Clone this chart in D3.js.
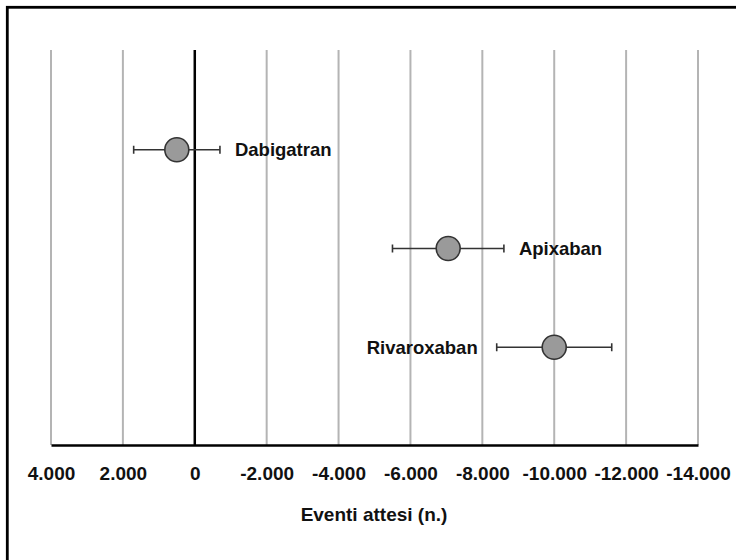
<!DOCTYPE html>
<head>
  <meta charset="utf-8">
  <script src="https://d3js.org/d3.v7.min.js"></script>
  <style>
    body { margin: 0; background: #fff; }
    svg { display: block; font-family: 'Liberation Sans', Arial, sans-serif; }
  </style>
</head>
<body>
  <svg width="736" height="560"></svg>
  <script>
    // data
    var drugs = ['Dabigatran', 'Apixaban', 'Rivaroxaban'];
    var estimates = [500, -7050, -10000];
    var lowerBounds = [1700, -5500, -8400];
    var upperBounds = [-700, -8600, -11600];
    var labelSide = ['right', 'right', 'left'];
    var tickValues = [4000, 2000, 0, -2000, -4000, -6000, -8000, -10000, -12000, -14000];
    var axisTitle = 'Eventi attesi (n.)';

    var svg = d3.select('svg');

    // frame, runs off the right and bottom edges
    svg.append('rect')
      .attr('x', 7.3).attr('y', 7.3)
      .attr('width', 760).attr('height', 600)
      .attr('fill', 'none')
      .attr('stroke', '#000')
      .attr('stroke-width', 2.8);

    var x = d3.scaleLinear()
      .domain([4000, -14000])
      .range([51, 698]);

    var y = d3.scalePoint()
      .domain(drugs)
      .range([51, 446])
      .padding(1);

    var plotTop = 50, axisY = 445;

    // grid
    svg.append('g')
      .selectAll('line')
      .data(tickValues.filter(function(d) { return d !== 0; }))
      .enter().append('line')
      .attr('x1', function(d) { return x(d); })
      .attr('x2', function(d) { return x(d); })
      .attr('y1', plotTop).attr('y2', axisY)
      .attr('stroke', '#b4b4b4')
      .attr('stroke-width', 2);

    // zero line
    svg.append('line')
      .attr('x1', x(0)).attr('x2', x(0))
      .attr('y1', plotTop).attr('y2', axisY)
      .attr('stroke', '#000')
      .attr('stroke-width', 2.5);

    // x axis
    var axis = d3.axisBottom(x)
      .tickValues(tickValues)
      .tickSize(0)
      .tickPadding(0)
      .tickFormat(function(d) {
        return d3.format(',')(d).replace(/,/g, '.').replace('−', '-');
      });

    var gAxis = svg.append('g')
      .attr('transform', 'translate(0,' + axisY + ')')
      .call(axis);
    gAxis.select('.domain')
      .attr('stroke', '#000')
      .attr('stroke-width', 2.5);
    gAxis.selectAll('text')
      .attr('dy', null)
      .attr('y', 35)
      .attr('fill', '#111')
      .style('font-size', '19px')
      .style('font-weight', 'bold');

    svg.append('text')
      .attr('x', 374).attr('y', 521)
      .attr('text-anchor', 'middle')
      .attr('fill', '#111')
      .style('font-size', '19px')
      .style('font-weight', 'bold')
      .text(axisTitle);

    // error bars and points
    var rows = drugs.map(function(name, i) {
      return {name: name, est: estimates[i], lo: lowerBounds[i], hi: upperBounds[i], side: labelSide[i]};
    });

    var g = svg.selectAll('g.drug')
      .data(rows).enter().append('g')
      .classed('drug', true)
      .attr('transform', function(d) { return 'translate(0,' + y(d.name) + ')'; });

    g.append('line')
      .attr('x1', function(d) { return x(d.lo); })
      .attr('x2', function(d) { return x(d.hi); })
      .attr('stroke', '#333')
      .attr('stroke-width', 1.6);

    g.selectAll('line.cap')
      .data(function(d) { return [d.lo, d.hi]; })
      .enter().append('line')
      .classed('cap', true)
      .attr('x1', function(d) { return x(d); })
      .attr('x2', function(d) { return x(d); })
      .attr('y1', -4).attr('y2', 4)
      .attr('stroke', '#333')
      .attr('stroke-width', 1.6);

    g.append('circle')
      .attr('cx', function(d) { return x(d.est); })
      .attr('r', 12)
      .attr('fill', '#9a9a9a')
      .attr('stroke', '#333')
      .attr('stroke-width', 1.6);

    g.append('text')
      .attr('x', function(d) {
        return d.side === 'right' ? x(d.hi) + 15 : x(d.lo) - 19;
      })
      .attr('y', 6.5)
      .attr('text-anchor', function(d) { return d.side === 'right' ? 'start' : 'end'; })
      .attr('fill', '#111')
      .style('font-size', '18.5px')
      .style('font-weight', 'bold')
      .text(function(d) { return d.name; });
  </script>
</body>
